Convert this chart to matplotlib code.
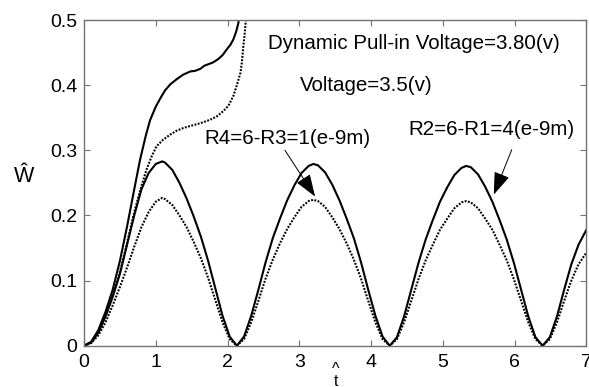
import matplotlib
matplotlib.use("Agg")
import matplotlib.pyplot as plt

plt.rcParams["font.family"] = ["Liberation Sans", "DejaVu Sans"]

# oscillating response (V = 3.5 v), sampled along t-hat
osc_t = [
    0, 0.1, 0.2, 0.3, 0.4, 0.5, 0.6, 0.7, 0.8, 0.9, 1.0, 1.09,
    1.13, 1.23, 1.33, 1.43, 1.53, 1.63, 1.73, 1.83, 1.93, 2.03, 2.13,
    2.23, 2.33, 2.43, 2.53, 2.63, 2.73, 2.83, 2.93, 3.03, 3.13, 3.195,
    3.26, 3.36, 3.46, 3.56, 3.66, 3.76, 3.86, 3.96, 4.06, 4.16, 4.26,
    4.36, 4.46, 4.56, 4.66, 4.76, 4.86, 4.96, 5.06, 5.16, 5.26, 5.325,
    5.39, 5.49, 5.59, 5.69, 5.79, 5.89, 5.99, 6.09, 6.19, 6.29, 6.39,
    6.49, 6.59, 6.69, 6.79, 6.89, 7.0,
]
# R2=6-R1=4 (solid)
osc_solid = [
    0, 0.005, 0.02, 0.045, 0.075, 0.11, 0.155, 0.2, 0.24, 0.265, 0.279, 0.283,
    0.281, 0.270, 0.250, 0.226, 0.198, 0.167, 0.130, 0.088, 0.046, 0.014, 0,
    0.014, 0.046, 0.086, 0.128, 0.165, 0.195, 0.223, 0.246, 0.265, 0.276, 0.279,
    0.277, 0.266, 0.247, 0.223, 0.195, 0.165, 0.128, 0.086, 0.046, 0.014, 0,
    0.013, 0.045, 0.086, 0.127, 0.163, 0.193, 0.221, 0.243, 0.262, 0.273, 0.276,
    0.274, 0.263, 0.244, 0.221, 0.193, 0.163, 0.127, 0.086, 0.045, 0.013, 0,
    0.013, 0.045, 0.086, 0.125, 0.155, 0.178,
]
# R4=6-R3=1 (dotted)
osc_dotted = [
    0, 0.004, 0.016, 0.036, 0.062, 0.09, 0.12, 0.152, 0.182, 0.205, 0.221, 0.227,
    0.225, 0.216, 0.200, 0.182, 0.159, 0.134, 0.104, 0.070, 0.036, 0.010, 0,
    0.010, 0.036, 0.069, 0.103, 0.132, 0.157, 0.179, 0.197, 0.213, 0.222, 0.224,
    0.222, 0.213, 0.197, 0.179, 0.157, 0.132, 0.103, 0.069, 0.036, 0.010, 0,
    0.010, 0.036, 0.069, 0.102, 0.131, 0.155, 0.178, 0.195, 0.211, 0.220, 0.222,
    0.220, 0.211, 0.195, 0.178, 0.155, 0.131, 0.102, 0.069, 0.036, 0.010, 0,
    0.010, 0.036, 0.069, 0.100, 0.125, 0.143,
]

# pull-in response (V = 3.80 v)
pullin_solid_t = [
    0, 0.1, 0.2, 0.3, 0.4, 0.5, 0.6, 0.7, 0.78, 0.86, 0.92, 1.0, 1.07, 1.13,
    1.2, 1.29, 1.38, 1.48, 1.55, 1.62, 1.68, 1.73, 1.8, 1.87, 1.93, 1.99,
    2.04, 2.08, 2.12, 2.15, 2.18,
]
pullin_solid = [
    0, 0.006, 0.024, 0.052, 0.086, 0.13, 0.183, 0.24, 0.285, 0.322, 0.346, 0.367,
    0.381, 0.392, 0.401, 0.409, 0.416, 0.421, 0.422, 0.425, 0.43, 0.432, 0.435,
    0.44, 0.446, 0.455, 0.462, 0.47, 0.482, 0.495, 0.515,
]
pullin_dotted_t = [
    0, 0.1, 0.2, 0.3, 0.4, 0.5, 0.6, 0.7, 0.8, 0.87, 0.94, 1.01, 1.1, 1.2,
    1.29, 1.38, 1.47, 1.57, 1.66, 1.76, 1.85, 1.94, 2.01, 2.08, 2.13, 2.18,
    2.2, 2.22, 2.24, 2.255, 2.27,
]
pullin_dotted = [
    0, 0.005, 0.021, 0.046, 0.077, 0.113, 0.158, 0.205, 0.245, 0.27, 0.29, 0.306,
    0.316, 0.324, 0.33, 0.334, 0.337, 0.34, 0.343, 0.347, 0.352, 0.36, 0.368,
    0.383, 0.4, 0.419, 0.435, 0.46, 0.48, 0.5, 0.53,
]

x_ticks = [0, 1, 2, 3, 4, 5, 6, 7]
y_ticks = [0, 0.1, 0.2, 0.3, 0.4, 0.5]
y_tick_labels = ["0", "0.1", "0.2", "0.3", "0.4", "0.5"]

fig = plt.figure(figsize=(5.89, 3.87), dpi=100)
ax = fig.add_axes([0.1426, 0.1067, 0.853, 0.8416])

dotted = (0, (0.9, 0.7))
ax.plot(osc_t, osc_solid, color="black", linewidth=1.5)
ax.plot(osc_t, osc_dotted, color="black", linewidth=1.5, linestyle=dotted)
ax.plot(pullin_solid_t, pullin_solid, color="black", linewidth=1.5)
ax.plot(pullin_dotted_t, pullin_dotted, color="black", linewidth=1.5,
        linestyle=dotted)

ax.set_xlim(0, 7)
ax.set_ylim(0, 0.5)
ax.set_xticks(x_ticks)
ax.set_yticks(y_ticks)
ax.set_yticklabels(y_tick_labels)
ax.tick_params(direction="in", length=4, width=0.8, color="0.45",
               labelsize=14, top=True, right=True)
ax.tick_params(axis="x", pad=6)
ax.tick_params(axis="y", pad=5)
for spine in ax.spines.values():
    spine.set_color("0.45")
    spine.set_linewidth(1.0)

text_size = 14.8
ax.text(2.57, 0.455, "Dynamic Pull-in Voltage=3.80(v)", fontsize=text_size)
ax.text(3.01, 0.391, "Voltage=3.5(v)", fontsize=text_size)
ax.text(1.674, 0.310, "R4=6-R3=1(e-9m)", fontsize=text_size)
ax.text(4.52, 0.324, "R2=6-R1=4(e-9m)", fontsize=text_size)

arrow_props = dict(arrowstyle="-|>,head_length=1.4,head_width=0.5",
                   color="black", lw=0.7, shrinkA=0, shrinkB=0)
ax.annotate("", xy=(3.22, 0.229), xytext=(2.8, 0.30), arrowprops=arrow_props)
ax.annotate("", xy=(5.71, 0.232), xytext=(5.96, 0.301), arrowprops=arrow_props)

fig.text(24 / 589, 1 - 176 / 387, "\u0174", fontsize=15.5, ha="center", va="center")
# hatted t below the x axis
fig.text(336 / 589, 1 - 376 / 387, "^\nt", fontsize=11.5, ha="center",
         va="center", linespacing=0.75, multialignment="center")

fig.savefig("out.png", dpi=100)
plt.close(fig)
